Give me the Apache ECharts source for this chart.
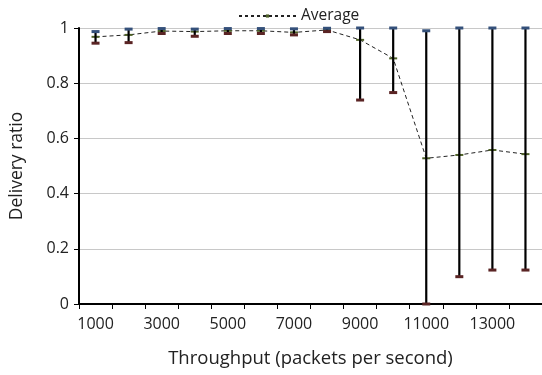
<!DOCTYPE html>
<html><head><meta charset="utf-8">
<script src="https://cdn.jsdelivr.net/npm/echarts@6/dist/echarts.min.js"></script>
<style>html,body{margin:0;padding:0;background:#fff}#c{width:542px;height:375px}</style>
</head><body><div id="c"></div>
<script>
var categories = ['1000','2000','3000','4000','5000','6000','7000','8000','9000','10000','11000','12000','13000','14000'];
var average = [0.968,0.975,0.989,0.987,0.990,0.990,0.984,0.993,0.957,0.890,0.528,0.540,0.558,0.543];
var high    = [0.987,0.996,0.998,0.996,0.998,0.998,0.997,0.999,1.0,1.0,0.99,1.0,1.0,1.0];
var low     = [0.945,0.947,0.980,0.970,0.980,0.980,0.975,0.987,0.739,0.766,0.0,0.099,0.123,0.123];

var errData = categories.map(function(c,i){return [i, low[i], high[i]];});
var font = "'Open Sans', sans-serif";
var chart = echarts.init(document.getElementById('c'));
chart.setOption({
  animation:false,
  textStyle:{fontFamily:font},
  legend:{
    left:233, top:3, itemWidth:57, itemHeight:4, itemGap:6,
    textStyle:{fontSize:15.5, color:'#222', fontFamily:font},
    lineStyle:{type:[3,3]},
    data:['Average']
  },
  grid:{left:78, top:28, width:467, height:276},
  xAxis:{
    type:'category', data:categories, boundaryGap:true,
    axisLine:{lineStyle:{color:'#000', width:2}},
    axisTick:{show:true, length:5, alignWithLabel:false, interval:0, lineStyle:{color:'#000', width:1}},
    axisLabel:{interval:1, color:'#222', fontSize:16, margin:12, fontFamily:font},
    name:'Throughput (packets per second)', nameLocation:'middle', nameGap:45,
    nameTextStyle:{fontSize:18.5, color:'#222', fontFamily:font}
  },
  yAxis:{
    type:'value', min:0, max:1, interval:0.2,
    axisLine:{show:true, lineStyle:{color:'#000', width:2}},
    axisTick:{show:true, length:5, lineStyle:{color:'#000', width:1}},
    axisLabel:{color:'#222', fontSize:16, margin:10, fontFamily:font},
    splitLine:{lineStyle:{color:'#c8c8c8', width:1}},
    name:'Delivery ratio', nameLocation:'middle', nameGap:53,
    nameTextStyle:{fontSize:17.5, color:'#222', fontFamily:font}
  },
  series:[
    {
      name:'Average', type:'line', data:average,
      lineStyle:{color:'#222', width:1, type:[4,3]},
      itemStyle:{color:'#4f6228'},
      symbol:'rect', symbolSize:[8,2], z:3
    },
    {
      type:'custom', data:errData, z:4,
      renderItem:function(params, api){
        var x = api.value(0);
        var lo = api.coord([x, api.value(1)]);
        var hi = api.coord([x, api.value(2)]);
        return {type:'group', children:[
          {type:'line', shape:{x1:lo[0], y1:lo[1], x2:hi[0], y2:hi[1]}, style:{stroke:'#000', lineWidth:2.2}},
          {type:'rect', shape:{x:hi[0]-4, y:hi[1]-1.5, width:8, height:3}, style:{fill:'#34507a'}},
          {type:'rect', shape:{x:lo[0]-4, y:lo[1]-1.5, width:8, height:3}, style:{fill:'#5a2424'}}
        ]};
      }
    }
  ]
});
</script></body></html>
